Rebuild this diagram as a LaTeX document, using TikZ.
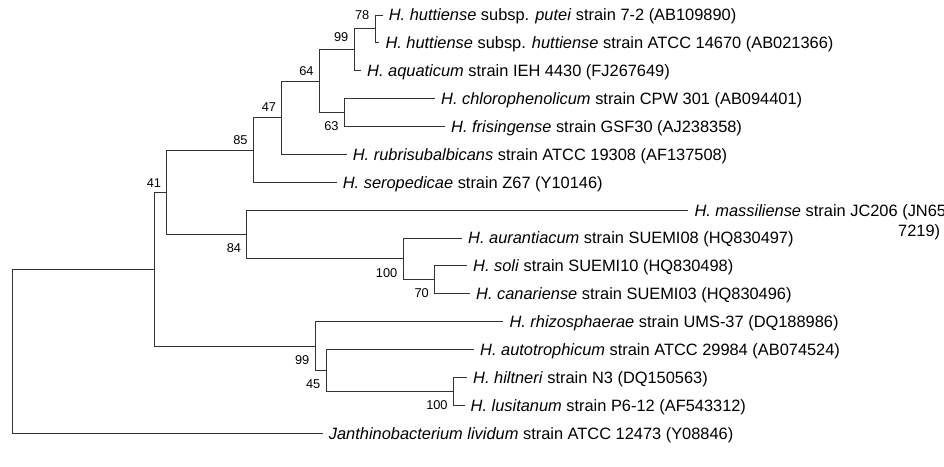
\documentclass[tikz,border=0pt]{standalone}
\usepackage{fontspec}
\setmainfont{Liberation Sans}
\begin{document}
\begin{tikzpicture}[x=1pt,y=-1pt,
  br/.style={line width=1pt, draw=black!80},
  leaf/.style={anchor=base west, inner sep=0pt, font=\fontsize{16.4}{19}\selectfont, xshift=6pt, yshift=-5.9pt},
  bsup/.style={anchor=east, inner sep=0pt, font=\fontsize{12.8}{15}\selectfont, xshift=-5.5pt, yshift=#1},
  bsup/.default=10pt,
  bsdn/.style={anchor=east, inner sep=0pt, font=\fontsize{12.8}{15}\selectfont, xshift=-5.5pt, yshift=-#1},
  bsdn/.default=14pt]
\useasboundingbox (0,0) rectangle (944,466);
\clip (0,0) rectangle (944,466);
% internal nodes
\coordinate (R) at (12.7,351.2);
\coordinate (N154) at (154,269.19);
\coordinate (N166) at (166.7,192.3);
\coordinate (N85) at (253.3,150.04);
\coordinate (N47) at (281.7,117.8);
\coordinate (N64) at (319.3,81.2);
\coordinate (N99a) at (354,49.85);
\coordinate (N78) at (375,28.94);
\coordinate (N63) at (344.3,112.58);
\coordinate (N84) at (246.7,234.56);
\coordinate (N100) at (403,258.95);
\coordinate (N70) at (434.5,279.86);
\coordinate (N99) at (315,346.08);
\coordinate (N45) at (326,370.47);
\coordinate (N100b) at (453.3,391.38);
% tips
\coordinate (t1) at (382.7,15);
\coordinate (t2) at (379.3,42.88);
\coordinate (t3) at (361,70.76);
\coordinate (t4) at (435,98.64);
\coordinate (t5) at (445,126.52);
\coordinate (t6) at (346.7,154.4);
\coordinate (t7) at (336.7,182.28);
\coordinate (t8) at (688.3,210.16);
\coordinate (t9) at (462,238.04);
\coordinate (t10) at (467,265.92);
\coordinate (t11) at (470,293.8);
\coordinate (t12) at (503.3,321.68);
\coordinate (t13) at (474,349.56);
\coordinate (t14) at (467,377.44);
\coordinate (t15) at (464.5,405.32);
\coordinate (t16) at (322.7,433.2);
% branches
\draw[br] (R) |- (N154);
\draw[br] (R) |- (t16);
\draw[br] (N154) |- (N166);
\draw[br] (N154) |- (N99);
\draw[br] (N166) |- (N85);
\draw[br] (N166) |- (N84);
\draw[br] (N85) |- (N47);
\draw[br] (N85) |- (t7);
\draw[br] (N47) |- (N64);
\draw[br] (N47) |- (t6);
\draw[br] (N64) |- (N99a);
\draw[br] (N64) |- (N63);
\draw[br] (N99a) |- (N78);
\draw[br] (N99a) |- (t3);
\draw[br] (N78) |- (t1);
\draw[br] (N78) |- (t2);
\draw[br] (N63) |- (t4);
\draw[br] (N63) |- (t5);
\draw[br] (N84) |- (t8);
\draw[br] (N84) |- (N100);
\draw[br] (N100) |- (t9);
\draw[br] (N100) |- (N70);
\draw[br] (N70) |- (t10);
\draw[br] (N70) |- (t11);
\draw[br] (N99) |- (t12);
\draw[br] (N99) |- (N45);
\draw[br] (N45) |- (t13);
\draw[br] (N45) |- (N100b);
\draw[br] (N100b) |- (t14);
\draw[br] (N100b) |- (t15);
% leaf labels
\node[leaf] (l1) at (t1) {\textit{H. huttiense} subsp. \textit{putei} strain 7-2 (AB109890)};
\node[leaf] (l2) at (t2) {\textit{H. huttiense} subsp. \textit{huttiense} strain ATCC 14670 (AB021366)};
\node[leaf] (l3) at (t3) {\textit{H. aquaticum} strain IEH 4430 (FJ267649)};
\node[leaf] (l4) at (t4) {\textit{H. chlorophenolicum} strain CPW 301 (AB094401)};
\node[leaf] (l5) at (t5) {\textit{H. frisingense} strain GSF30 (AJ238358)};
\node[leaf] (l6) at (t6) {\textit{H. rubrisubalbicans} strain ATCC 19308 (AF137508)};
\node[leaf] (l7) at (t7) {\textit{H. seropedicae} strain Z67 (Y10146)};
\node[leaf] (l8) at (t8) {\textit{H. massiliense} strain JC206 (JN65};
\node[anchor=base west, inner sep=0pt, font=\fontsize{16.4}{19}\selectfont] (l8b) at (898,236.9) {7219)};
\node[leaf] (l9) at (t9) {\textit{H. aurantiacum} strain SUEMI08 (HQ830497)};
\node[leaf] (l10) at (t10) {\textit{H. soli} strain SUEMI10 (HQ830498)};
\node[leaf] (l11) at (t11) {\textit{H. canariense} strain SUEMI03 (HQ830496)};
\node[leaf] (l12) at (t12) {\textit{H. rhizosphaerae} strain UMS-37 (DQ188986)};
\node[leaf] (l13) at (t13) {\textit{H. autotrophicum} strain ATCC 29984 (AB074524)};
\node[leaf] (l14) at (t14) {\textit{H. hiltneri} strain N3 (DQ150563)};
\node[leaf] (l15) at (t15) {\textit{H. lusitanum} strain P6-12 (AF543312)};
\node[leaf] (l16) at (t16) {\textit{Janthinobacterium lividum} strain ATCC 12473 (Y08846)};
% bootstrap values
\node[bsup=9pt] (b41) at (N166) {41};
\node[bsup] (b85) at (N85) {85};
\node[bsup=10.5pt] (b47) at (N47) {47};
\node[bsup] (b64) at (N64) {64};
\node[bsup=13pt] (b99a) at (N99a) {99};
\node[bsup=14pt] (b78) at (N78) {78};
\node[bsdn] (b63) at (N63) {63};
\node[bsdn=13.7pt] (b84) at (N84) {84};
\node[bsdn] (b100) at (N100) {100};
\node[bsdn=13.4pt] (b70) at (N70) {70};
\node[bsdn] (b99) at (N99) {99};
\node[bsdn=13.8pt] (b45) at (N45) {45};
\node[bsdn=13.6pt] (b100b) at (N100b) {100};
\end{tikzpicture}
\end{document}
